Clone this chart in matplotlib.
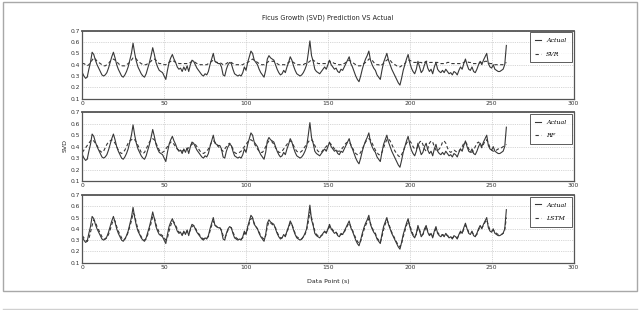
import numpy as np
import matplotlib
matplotlib.use("Agg")
import matplotlib.pyplot as plt
from matplotlib.patches import Rectangle
from matplotlib.lines import Line2D

title = "Ficus Growth (SVD) Prediction VS Actual"
xlabel = "Data Point (s)"
ylabel = "SVD"
model_names = ["SVR", "RF", "LSTM"]
x_ticks = [0, 50, 100, 150, 200, 250, 300]
y_ticks = [0.1, 0.2, 0.3, 0.4, 0.5, 0.6, 0.7]

actual = [
    0.33, 0.30, 0.28, 0.29, 0.36, 0.42, 0.51, 0.49, 0.44, 0.40,
    0.37, 0.34, 0.31, 0.30, 0.31, 0.33, 0.37, 0.42, 0.47, 0.51,
    0.46, 0.40, 0.36, 0.33, 0.30, 0.29, 0.31, 0.34, 0.38, 0.44,
    0.50, 0.59, 0.50, 0.43, 0.38, 0.35, 0.32, 0.30, 0.29, 0.32,
    0.37, 0.42, 0.48, 0.55, 0.49, 0.42, 0.38, 0.35, 0.34, 0.33,
    0.30, 0.27, 0.35, 0.42, 0.46, 0.49, 0.45, 0.42, 0.38, 0.36,
    0.37, 0.34, 0.38, 0.35, 0.39, 0.34, 0.40, 0.44, 0.43, 0.40,
    0.37, 0.35, 0.33, 0.31, 0.30, 0.32, 0.31, 0.34, 0.40, 0.45,
    0.50, 0.43, 0.42, 0.41, 0.41, 0.38, 0.31, 0.30, 0.36, 0.40,
    0.42, 0.41, 0.36, 0.32, 0.31, 0.30, 0.31, 0.30, 0.33, 0.38,
    0.35, 0.42, 0.47, 0.52, 0.50, 0.44, 0.42, 0.40, 0.36, 0.33,
    0.31, 0.29, 0.35, 0.45, 0.48, 0.46, 0.45, 0.44, 0.40, 0.36,
    0.33, 0.31, 0.32, 0.35, 0.33, 0.38, 0.42, 0.47, 0.44, 0.39,
    0.35, 0.32, 0.31, 0.30, 0.31, 0.33, 0.36, 0.40, 0.50, 0.61,
    0.48, 0.43, 0.36, 0.34, 0.33, 0.32, 0.34, 0.36, 0.38, 0.36,
    0.40, 0.44, 0.40, 0.38, 0.36, 0.37, 0.34, 0.33, 0.36, 0.35,
    0.38, 0.41, 0.44, 0.47, 0.41, 0.38, 0.34, 0.30, 0.27, 0.25,
    0.30, 0.36, 0.41, 0.45, 0.48, 0.52, 0.44, 0.40, 0.37, 0.35,
    0.31, 0.29, 0.27, 0.35, 0.42, 0.46, 0.50, 0.44, 0.40, 0.36,
    0.33, 0.30, 0.27, 0.24, 0.22, 0.28, 0.35, 0.40, 0.45, 0.49,
    0.42, 0.37, 0.34, 0.32, 0.36, 0.43, 0.38, 0.33, 0.35, 0.40,
    0.43, 0.37, 0.34, 0.36, 0.32, 0.38, 0.42, 0.36, 0.34, 0.33,
    0.35, 0.33, 0.36, 0.34, 0.32, 0.33, 0.31, 0.34, 0.33, 0.31,
    0.35, 0.38, 0.36, 0.41, 0.45, 0.40, 0.36, 0.35, 0.38, 0.34,
    0.33, 0.36, 0.40, 0.43, 0.40, 0.44, 0.47, 0.50, 0.41, 0.38,
    0.37, 0.40, 0.36, 0.35, 0.34, 0.34, 0.35, 0.36, 0.40, 0.57,
]

svr_pred = [
    0.41, 0.41, 0.40, 0.39, 0.40, 0.42, 0.44, 0.46, 0.45, 0.43,
    0.42, 0.41, 0.40, 0.39, 0.39, 0.40, 0.41, 0.43, 0.44, 0.45,
    0.44, 0.43, 0.41, 0.40, 0.39, 0.39, 0.39, 0.40, 0.41, 0.42,
    0.44, 0.46, 0.46, 0.45, 0.43, 0.42, 0.41, 0.40, 0.40, 0.40,
    0.41, 0.42, 0.43, 0.45, 0.45, 0.44, 0.42, 0.41, 0.41, 0.41,
    0.40, 0.40, 0.41, 0.42, 0.43, 0.44, 0.43, 0.42, 0.42, 0.41,
    0.41, 0.41, 0.41, 0.41, 0.41, 0.41, 0.42, 0.43, 0.43, 0.42,
    0.41, 0.41, 0.40, 0.40, 0.40, 0.40, 0.40, 0.41, 0.42, 0.43,
    0.44, 0.43, 0.42, 0.42, 0.42, 0.41, 0.40, 0.40, 0.41, 0.42,
    0.42, 0.42, 0.41, 0.40, 0.40, 0.40, 0.40, 0.40, 0.40, 0.41,
    0.41, 0.42, 0.43, 0.44, 0.45, 0.44, 0.43, 0.42, 0.41, 0.40,
    0.40, 0.40, 0.41, 0.42, 0.43, 0.43, 0.43, 0.43, 0.42, 0.41,
    0.40, 0.40, 0.40, 0.40, 0.40, 0.41, 0.42, 0.43, 0.43, 0.42,
    0.41, 0.40, 0.40, 0.40, 0.40, 0.40, 0.41, 0.41, 0.42, 0.43,
    0.45, 0.44, 0.43, 0.42, 0.41, 0.41, 0.41, 0.41, 0.41, 0.41,
    0.42, 0.43, 0.42, 0.42, 0.41, 0.41, 0.40, 0.40, 0.40, 0.41,
    0.41, 0.42, 0.43, 0.44, 0.43, 0.42, 0.41, 0.40, 0.39, 0.39,
    0.39, 0.40, 0.41, 0.42, 0.43, 0.45, 0.45, 0.44, 0.42, 0.41,
    0.40, 0.40, 0.39, 0.40, 0.41, 0.43, 0.44, 0.45, 0.44, 0.42,
    0.41, 0.40, 0.39, 0.39, 0.38, 0.39, 0.40, 0.41, 0.43, 0.44,
    0.44, 0.43, 0.42, 0.42, 0.42, 0.42, 0.42, 0.42, 0.41, 0.42,
    0.43, 0.43, 0.42, 0.42, 0.42, 0.42, 0.42, 0.42, 0.41, 0.41,
    0.41, 0.41, 0.41, 0.42, 0.42, 0.41, 0.41, 0.41, 0.41, 0.41,
    0.41, 0.41, 0.41, 0.42, 0.43, 0.43, 0.42, 0.42, 0.41, 0.41,
    0.41, 0.41, 0.41, 0.42, 0.42, 0.42, 0.43, 0.43, 0.42, 0.41,
    0.41, 0.40, 0.40, 0.40, 0.40, 0.40, 0.40, 0.40, 0.41, 0.42,
]

rf_pred = [
    0.35, 0.37, 0.39, 0.41, 0.43, 0.45, 0.46, 0.45, 0.43, 0.41,
    0.38, 0.36, 0.35, 0.36, 0.39, 0.42, 0.44, 0.45, 0.46, 0.45,
    0.43, 0.40, 0.37, 0.35, 0.34, 0.35, 0.37, 0.40, 0.43, 0.45,
    0.46, 0.47, 0.46, 0.44, 0.41, 0.38, 0.35, 0.34, 0.35, 0.38,
    0.41, 0.44, 0.46, 0.47, 0.46, 0.43, 0.40, 0.37, 0.35, 0.35,
    0.36, 0.38, 0.40, 0.42, 0.44, 0.44, 0.42, 0.40, 0.38, 0.37,
    0.37, 0.36, 0.37, 0.38, 0.38, 0.39, 0.41, 0.42, 0.43, 0.42,
    0.40, 0.38, 0.36, 0.35, 0.34, 0.35, 0.36, 0.38, 0.41, 0.44,
    0.45, 0.44, 0.42, 0.40, 0.39, 0.37, 0.36, 0.38, 0.40, 0.42,
    0.43, 0.41, 0.38, 0.35, 0.34, 0.34, 0.35, 0.36, 0.38, 0.40,
    0.42, 0.44, 0.46, 0.46, 0.45, 0.43, 0.40, 0.38, 0.36, 0.35,
    0.35, 0.37, 0.40, 0.43, 0.45, 0.45, 0.44, 0.42, 0.39, 0.37,
    0.35, 0.35, 0.36, 0.38, 0.40, 0.42, 0.44, 0.45, 0.44, 0.41,
    0.38, 0.36, 0.35, 0.35, 0.36, 0.38, 0.40, 0.42, 0.44, 0.46,
    0.46, 0.44, 0.41, 0.38, 0.36, 0.35, 0.35, 0.37, 0.39, 0.40,
    0.42, 0.43, 0.42, 0.40, 0.38, 0.37, 0.36, 0.36, 0.37, 0.39,
    0.41, 0.43, 0.44, 0.44, 0.42, 0.39, 0.36, 0.34, 0.33, 0.33,
    0.35, 0.38, 0.41, 0.44, 0.46, 0.47, 0.46, 0.43, 0.40, 0.37,
    0.35, 0.33, 0.33, 0.35, 0.39, 0.43, 0.46, 0.47, 0.45, 0.42,
    0.39, 0.36, 0.34, 0.32, 0.31, 0.33, 0.36, 0.40, 0.43, 0.45,
    0.45, 0.43, 0.40, 0.38, 0.38, 0.40, 0.44, 0.45, 0.42, 0.38,
    0.36, 0.38, 0.43, 0.45, 0.44, 0.40, 0.37, 0.36, 0.38, 0.40,
    0.44, 0.45, 0.43, 0.39, 0.36, 0.35, 0.36, 0.37, 0.36, 0.35,
    0.36, 0.38, 0.40, 0.43, 0.44, 0.42, 0.38, 0.36, 0.35, 0.37,
    0.40, 0.43, 0.44, 0.42, 0.39, 0.42, 0.45, 0.46, 0.43, 0.39,
    0.37, 0.36, 0.36, 0.37, 0.38, 0.38, 0.39, 0.40, 0.41, 0.42,
]

lstm_pred = [
    0.34, 0.32, 0.30, 0.29, 0.31, 0.37, 0.43, 0.48, 0.46, 0.42,
    0.39, 0.36, 0.33, 0.31, 0.31, 0.32, 0.35, 0.39, 0.44, 0.48,
    0.47, 0.42, 0.38, 0.35, 0.32, 0.30, 0.31, 0.33, 0.37, 0.42,
    0.47, 0.54, 0.52, 0.45, 0.40, 0.36, 0.33, 0.31, 0.30, 0.31,
    0.35, 0.40, 0.45, 0.51, 0.50, 0.44, 0.40, 0.37, 0.35, 0.34,
    0.32, 0.30, 0.32, 0.38, 0.43, 0.47, 0.46, 0.43, 0.40, 0.37,
    0.37, 0.35, 0.37, 0.36, 0.38, 0.36, 0.39, 0.42, 0.43, 0.41,
    0.38, 0.36, 0.34, 0.32, 0.31, 0.32, 0.32, 0.33, 0.38, 0.43,
    0.47, 0.44, 0.42, 0.41, 0.41, 0.39, 0.34, 0.32, 0.35, 0.39,
    0.41, 0.41, 0.37, 0.34, 0.32, 0.31, 0.31, 0.31, 0.32, 0.36,
    0.36, 0.40, 0.45, 0.49, 0.49, 0.45, 0.42, 0.40, 0.37, 0.34,
    0.32, 0.31, 0.34, 0.42, 0.46, 0.45, 0.44, 0.43, 0.41, 0.37,
    0.34, 0.32, 0.32, 0.34, 0.34, 0.37, 0.41, 0.45, 0.44, 0.40,
    0.36, 0.33, 0.32, 0.31, 0.31, 0.33, 0.35, 0.39, 0.46, 0.55,
    0.50, 0.44, 0.38, 0.35, 0.34, 0.33, 0.34, 0.35, 0.37, 0.37,
    0.39, 0.42, 0.41, 0.39, 0.37, 0.37, 0.35, 0.34, 0.35, 0.35,
    0.37, 0.40, 0.43, 0.45, 0.42, 0.39, 0.35, 0.32, 0.29, 0.27,
    0.29, 0.34, 0.39, 0.43, 0.46, 0.49, 0.45, 0.41, 0.38, 0.36,
    0.32, 0.30, 0.28, 0.33, 0.39, 0.44, 0.48, 0.45, 0.41, 0.37,
    0.34, 0.31, 0.28, 0.26, 0.24, 0.27, 0.33, 0.38, 0.43, 0.47,
    0.43, 0.39, 0.35, 0.33, 0.35, 0.41, 0.39, 0.35, 0.35, 0.38,
    0.42, 0.38, 0.35, 0.35, 0.33, 0.37, 0.40, 0.37, 0.35, 0.34,
    0.35, 0.34, 0.35, 0.34, 0.33, 0.33, 0.32, 0.33, 0.33, 0.32,
    0.34, 0.37, 0.36, 0.40, 0.43, 0.41, 0.37, 0.36, 0.37, 0.35,
    0.34, 0.35, 0.39, 0.42, 0.41, 0.43, 0.46, 0.48, 0.43, 0.39,
    0.38, 0.39, 0.37, 0.36, 0.35, 0.35, 0.35, 0.36, 0.39, 0.50,
]

predictions = [svr_pred, rf_pred, lstm_pred]

W, H = 640, 310
fig = plt.figure(figsize=(6.4, 3.1), dpi=100)
fig.patch.set_facecolor("white")

# outer frame
fig.add_artist(Rectangle((2.5 / W, 1 - 291 / H), (636.7 - 2.5) / W, (291 - 2) / H,
                         transform=fig.transFigure, fill=False, ec="#a8a8a8", lw=1.0))
fig.add_artist(Line2D([2.5 / W, 636.7 / W], [1 - 308.5 / H, 1 - 308.5 / H],
                      transform=fig.transFigure, color="#d0d0d0", lw=1.0))

left = 82.3 / W
width = (573.5 - 82.3) / W
tops = [30.7, 112.3, 195.0]
bottoms = [98.7, 181.0, 262.7]

tick_font = dict(family="DejaVu Sans", size=4.3, color="#333333")
legend_font = dict(family="DejaVu Serif", style="italic", size=4.5)

for i in range(3):
    ax = fig.add_axes([left, 1 - bottoms[i] / H, width, (bottoms[i] - tops[i]) / H])
    x = np.arange(len(actual))
    ax.plot(x, actual, color="#383838", lw=0.8, label="Actual")
    ax.plot(np.arange(len(predictions[i])), predictions[i], color="#383838", lw=0.8,
            ls=(0, (3, 2.2)), label=model_names[i])
    ax.set_xlim(0, 300)
    ax.set_ylim(0.1, 0.7)
    ax.set_xticks(x_ticks)
    ax.set_yticks(y_ticks)
    ax.set_xticklabels([str(t) for t in x_ticks], fontdict=tick_font)
    ax.set_yticklabels([f"{t:.1f}" for t in y_ticks], fontdict=tick_font)
    ax.tick_params(axis="both", length=0, pad=1.5)
    ax.grid(True, color="#c8c8c8", ls=(0, (1, 1.2)), lw=0.6)
    for s in ax.spines.values():
        s.set_color("#555555")
        s.set_linewidth(0.9)
    ax.spines["top"].set_linewidth(1.3)
    leg = ax.legend(loc="upper right", prop=legend_font, frameon=True, fancybox=False,
                    edgecolor="#333333", handlelength=0.9, handletextpad=0.8,
                    borderpad=0.9, labelspacing=1.3, borderaxespad=0.25)
    leg.get_frame().set_linewidth(0.7)

fig.text((82.3 + 573.5) / 2 / W, 1 - 18 / H, title, ha="center", va="center",
         family="DejaVu Sans", size=4.7, color="#222222")
fig.text((82.3 + 573.5) / 2 / W, 1 - 281 / H, xlabel, ha="center", va="center",
         family="DejaVu Sans", size=4.5, color="#222222")
fig.text(65.5 / W, 1 - 146 / H, ylabel, ha="center", va="center", rotation=90,
         family="DejaVu Sans", size=4.5, color="#222222")

fig.savefig("out.png", dpi=100, facecolor="white")
